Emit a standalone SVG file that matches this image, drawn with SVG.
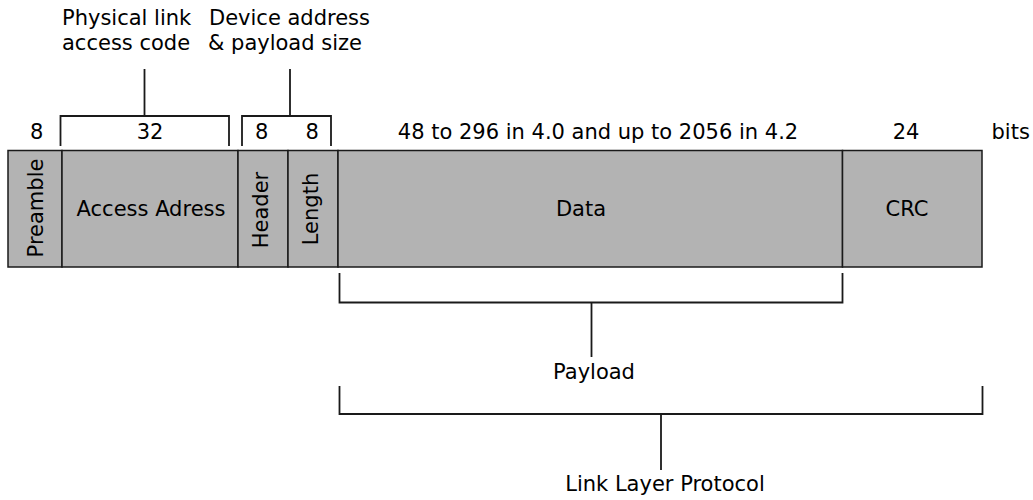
<svg xmlns="http://www.w3.org/2000/svg" width="1033" height="500" viewBox="0 0 1033 500">
<style>
text{font-family:"DejaVu Sans","Liberation Sans",sans-serif;font-size:21px;fill:#000}
.f{fill:#b3b3b3;stroke:#1a1a1a;stroke-width:1.5}
.br{fill:none;stroke:#1a1a1a;stroke-width:1.8}
.m{text-anchor:middle}
</style>
<rect width="1033" height="500" fill="#fff"/>
<g id="preamble"><rect class="f" x="8" y="150.5" width="54" height="116.5"/><text class="m" transform="translate(42.5,208) rotate(-90)">Preamble</text></g>
<g id="access-address"><rect class="f" x="62" y="150.5" width="176" height="116.5"/><text class="m" x="151" y="216">Access Adress</text></g>
<g id="header"><rect class="f" x="238" y="150.5" width="50" height="116.5"/><text class="m" transform="translate(268,210) rotate(-90)">Header</text></g>
<g id="length"><rect class="f" x="288" y="150.5" width="50" height="116.5"/><text class="m" transform="translate(318,209) rotate(-90)">Length</text></g>
<g id="data"><rect class="f" x="338" y="150.5" width="504.5" height="116.5"/><text class="m" x="581" y="216">Data</text></g>
<g id="crc"><rect class="f" x="842.5" y="150.5" width="139.5" height="116.5"/><text class="m" x="907" y="216">CRC</text></g>
<g id="sizes">
<text class="m" x="36.7" y="139">8</text>
<text class="m" x="150" y="139">32</text>
<text class="m" x="261.7" y="139">8</text>
<text class="m" x="312.3" y="139">8</text>
<text class="m" x="598" y="139">48 to 296 in 4.0 and up to 2056 in 4.2</text>
<text class="m" x="906" y="139">24</text>
<text x="991.5" y="139">bits</text>
</g>
<g id="label-physical"><text x="62" y="25">Physical link</text><text x="62" y="50">access code</text></g>
<g id="label-device"><text x="209" y="25">Device address</text><text x="208" y="50">&amp; payload size</text></g>
<g id="label-payload"><text class="m" x="594" y="379">Payload</text></g>
<g id="label-llp"><text class="m" x="665" y="491">Link Layer Protocol</text></g>
<g id="connectors">
<path class="br" d="M60.5,146V116H229V146M144.5,116V69"/>
<path class="br" d="M242,146V116H331V146M290,116V69"/>
<path class="br" d="M339.5,273V302.5H842.5V273M591.5,302.5V357"/>
<path class="br" d="M339.5,386V414H982.5V386M661,414V470"/>
</g>
</svg>
